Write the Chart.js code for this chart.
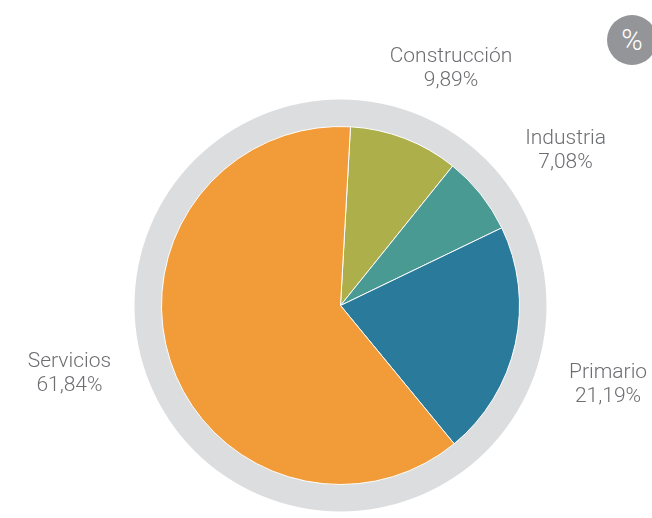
<!DOCTYPE html>
<html>
<head>
<meta charset="utf-8">
<script src="https://cdn.jsdelivr.net/npm/chart.js@4"></script>
<style>
    html, body { margin: 0; padding: 0; background: #fff; }
    #wrap { position: relative; width: 652px; height: 518px; }
    #badge {
        position: absolute; left: 607px; top: 15px; width: 50px; height: 50px;
        border-radius: 50%; background: #939598; color: #fff;
        font: 300 29px Roboto, sans-serif; line-height: 50px; text-align: center;
    }
</style>
</head>
<body>
<div id="wrap">
    <canvas id="pie" width="652" height="518"></canvas>
    <div id="badge">%</div>
</div>
<script>
"use strict";
const sectors = ["Construcción", "Industria", "Primario", "Servicios"];
const shares = [9.89, 7.08, 21.19, 61.84];
const colours = ["#acaf4a", "#4a9a94", "#2a7b9b", "#f19b39"];

const fmt = v => v.toFixed(2).replace(".", ",") + "%";

// grey ring behind the pie
const ringPlugin = {
    id: "ring",
    beforeDatasetsDraw: chart =>
    {
        const arc = chart.getDatasetMeta(0).data[0];
        if (!arc) return;
        const ctx = chart.ctx;
        ctx.save();
        ctx.beginPath();
        ctx.arc(arc.x, arc.y, arc.outerRadius + 27, 0, Math.PI * 2);
        ctx.fillStyle = "#dcdddf";
        ctx.fill();
        ctx.restore();
    }
};

// labels outside the ring, on an ellipse a little past each slice's mid angle
const labelPlugin = {
    id: "outsideLabels",
    afterDatasetsDraw: chart =>
    {
        const ctx = chart.ctx;
        ctx.save();
        ctx.font = "300 21px Roboto, sans-serif";
        ctx.fillStyle = "#6d6e71";
        ctx.textAlign = "center";
        ctx.textBaseline = "middle";
        chart.getDatasetMeta(0).data.forEach((arc, i) =>
        {
            const m = (arc.startAngle + arc.endAngle) / 2 + 4 * Math.PI / 180;
            const rx = arc.outerRadius * 1.57, ry = arc.outerRadius * 1.44;
            const r = 1 / Math.hypot(Math.cos(m) / rx, Math.sin(m) / ry);
            const x = arc.x + Math.cos(m) * r;
            const y = arc.y + Math.sin(m) * r;
            ctx.fillText(sectors[i], x, y - 12);
            ctx.fillText(fmt(shares[i]), x, y + 12);
        });
        ctx.restore();
    }
};

new Chart(document.getElementById("pie"), {
    type: "pie",
    data: {
        labels: sectors,
        datasets: [{
            data: shares,
            backgroundColor: colours,
            borderColor: "#ffffff",
            borderWidth: 1
        }]
    },
    options: {
        responsive: false,
        animation: false,
        rotation: 3.2,
        layout: { padding: { left: 161, right: 132, top: 126, bottom: 33 } },
        plugins: {
            legend: { display: false },
            tooltip: { enabled: false }
        }
    },
    plugins: [ringPlugin, labelPlugin]
});
</script>
</body>
</html>
